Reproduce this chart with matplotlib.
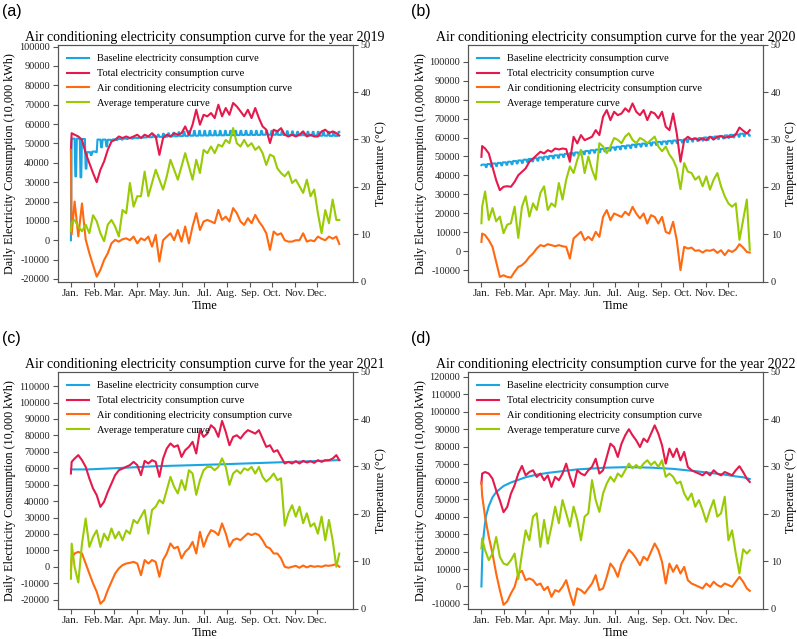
import numpy as np
import matplotlib
matplotlib.use("Agg")
import matplotlib.pyplot as plt

plt.rcParams['font.family'] = ['Liberation Serif', 'DejaVu Serif']
plt.rcParams['axes.unicode_minus'] = False

# ---------------- shared data ----------------
DAYS = [0, 1] + list(range(5, 361, 5)) + [364]
MONTH_START = [0, 31, 59, 90, 120, 151, 181, 212, 243, 273, 304, 334]
MONTHS = ['Jan.', 'Feb.', 'Mar.', 'Apr.', 'May.', 'Jun.', 'Jul.', 'Aug.',
          'Sep.', 'Oct.', 'Nov.', 'Dec.']
YEARS = [2019, 2020, 2021, 2022]
LABELS = ['Baseline electricity consumption curve',
          'Total electricity consumption curve',
          'Air conditioning electricity consumption curve',
          'Average temperature curve']

# ---------------- 2019 ----------------
total_2019 = [46700, 55300, 54500, 53600, 51900, 45000, 39800, 34700, 30000, 36400,
              40700, 46700, 51000, 51900, 53600, 52800, 53600, 52800, 53600, 54500,
              52800, 54500, 53600, 55300, 53600, 44100, 52800, 54500, 53600, 55300,
              54500, 55300, 58800, 54500, 59700, 67400, 59700, 64800, 64000, 65700,
              63100, 70000, 64000, 68300, 64800, 70900, 69100, 66600, 64000, 67400,
              63100, 68300, 63100, 58800, 57100, 50200, 57100, 56200, 57900, 54500,
              53600, 54500, 53600, 54500, 56200, 53600, 54500, 53600, 53600, 56200,
              57100, 55300, 56200, 55300, 54100]
ac_2019 = [46700, 3000, 20000, 2000, 19000, 500, -6700, -12800, -18800, -15300,
           -10200, -6700, -1600, 200, -700, 500, 1000, 0, 1900, -1600,
           1000, 0, 1900, -3300, 2800, -11000, 0, 1900, 3600, 0,
           5300, -700, 7100, -1600, 7100, 14000, 5300, 9700, 10500, 9700,
           8800, 15700, 10500, 12200, 9700, 16600, 14000, 9700, 7900, 11400,
           8800, 13100, 9700, 7100, 3600, -5000, 4500, 2800, 3600, 0,
           -700, -700, 0, 0, 3600, -700, 0, -500, 1900, 800,
           0, 1900, 800, 1900, -1900]
temp_2019 = [10.6, 12.5, 13.0, 11.6, 10.6, 12.0, 10.2, 14.0, 12.7, 10.2,
             8.5, 12.0, 13.0, 11.6, 9.5, 15.1, 14.4, 20.8, 15.8, 18.0,
             18.0, 23.2, 18.0, 20.8, 23.6, 21.5, 19.4, 22.2, 25.7, 23.6,
             21.5, 24.3, 27.1, 24.3, 21.5, 25.7, 22.9, 27.8, 27.1, 28.5,
             27.1, 28.9, 28.5, 29.9, 29.2, 32.4, 29.2, 28.5, 29.9, 28.5,
             29.2, 27.8, 28.5, 27.1, 24.6, 26.8, 26.4, 23.9, 22.9, 22.2,
             23.2, 20.8, 21.5, 20.1, 18.7, 21.5, 18.0, 19.4, 14.4, 10.2,
             15.1, 12.3, 17.3, 13.0, 13.0]
# 2019 baseline: first-day value, weekday level and weekend value per week
base_2019_day0 = 0
base_2019_week = [52500, 52500, 52300, 45500, 45800, 52000, 52000, 51900, 52100, 52300,
                  52500, 52700, 52900, 53000, 53100, 53200, 53300, 53400, 53500, 53600,
                  53700, 53800, 53900, 54000, 54000, 54100, 54100, 54200, 54200, 54200,
                  54300, 54300, 54300, 54400, 54400, 54400, 54400, 54500, 54500, 54500,
                  54400, 54400, 54300, 54300, 54200, 54200, 54100, 54100, 54000, 54000,
                  53900, 53900, 53800]
base_2019_wkend = [33000, 32500, 37000, 44000, 45500, 48000, 48500, 51500, 51800, 52000,
                   52300, 52500, 52700, 53000, 53600, 54000, 54500, 55000, 55200, 55500,
                   55800, 56000, 56300, 56500, 56500, 56500, 56500, 56500, 56500, 56500,
                   56500, 56500, 56500, 56500, 56500, 56500, 56500, 56500, 56500, 56500,
                   56500, 56300, 56200, 56000, 56000, 56000, 56000, 56000, 56000, 56000,
                   56000, 56000, 56000]

# ---------------- 2020 ----------------
total_2020 = [49800, 55500, 54200, 51600, 44500, 37500, 32200, 34000, 34300, 34000,
              36600, 40100, 41900, 43700, 47200, 48900, 50700, 52500, 51600, 53300,
              52500, 54200, 53700, 54200, 53900, 47200, 60400, 56900, 61300, 58600,
              59500, 60400, 63900, 61300, 71000, 74500, 69200, 73600, 71800, 72700,
              75400, 73600, 78000, 73600, 71800, 74500, 69200, 73600, 72700, 70100,
              73600, 65700, 63900, 72700, 62100, 47200, 58600, 60400, 59000, 59500,
              58600, 59500, 58600, 60400, 59000, 60400, 60700, 59900, 60400, 60400,
              61600, 65300, 63600, 62100, 63900]
ac_2020 = [4900, 9300, 8500, 5800, 2300, -5600, -13600, -12700, -13600, -13900,
           -10900, -8300, -7400, -5600, -3000, -1200, 1400, 3200, 2600, 3700,
           3200, 2600, 3200, 2600, 2300, -3900, 6700, 8500, 10200, 5800,
           7600, 5800, 10200, 7600, 18100, 21700, 16400, 19900, 19000, 18100,
           20800, 19000, 23400, 19900, 17300, 19900, 14600, 19000, 18100, 14600,
           18100, 10200, 9300, 15500, 5800, -10000, 2300, 1400, 1900, 200,
           500, -700, 500, 200, 900, -900, 500, -2100, 500, -400,
           900, 3700, 1900, -400, -700]
temp_2020 = [12.3, 15.8, 19.0, 13.0, 15.5, 12.7, 13.7, 10.2, 12.0, 12.3,
             15.8, 9.2, 15.8, 18.0, 13.7, 16.5, 15.1, 18.7, 20.1, 15.1,
             16.5, 15.8, 20.8, 17.3, 21.5, 24.3, 22.9, 25.7, 27.8, 22.9,
             26.4, 23.6, 21.5, 29.2, 28.5, 27.1, 28.5, 30.3, 29.9, 29.2,
             30.6, 31.3, 29.9, 29.2, 30.3, 29.9, 29.2, 29.9, 30.6, 28.5,
             27.5, 28.5, 26.8, 25.7, 23.9, 19.5, 25.0, 23.2, 22.9, 21.5,
             22.2, 20.1, 22.2, 19.4, 21.5, 22.9, 20.1, 18.0, 16.5, 15.8,
             16.5, 8.8, 13.0, 17.3, 6.7]
base_2020_week = [45700, 46000, 46300, 46600, 46900, 47200, 47600, 47900, 48300, 48700,
                  49100, 49500, 49900, 50300, 50600, 51000, 51400, 51800, 52100, 52500,
                  52900, 53300, 53600, 54000, 54400, 54800, 55100, 55500, 55800, 56200,
                  56500, 56800, 57100, 57400, 57700, 57900, 58200, 58400, 58700, 58900,
                  59200, 59500, 59700, 60000, 60300, 60500, 60800, 61100, 61400, 61700,
                  62000, 62300, 62600]
base_2020_wkend = [44400, 44700, 45000, 45300, 45600, 45900, 46300, 46600, 47000, 47400,
                   47800, 48200, 48600, 49000, 49300, 49700, 50100, 50500, 50800, 51200,
                   51600, 52000, 52300, 52700, 53100, 53500, 53800, 54200, 54500, 54900,
                   55200, 55500, 55800, 56100, 56400, 56600, 56900, 57100, 57400, 57600,
                   57900, 58200, 58400, 58700, 59000, 59200, 59500, 59800, 60100, 60400,
                   60700, 61000, 61300]
base_2020_day0 = 45400

# ---------------- 2021 ----------------
total_2021 = [56800, 63900, 65900, 68000, 64900, 60900, 53800, 47700, 43600, 36500,
              39600, 45600, 50700, 55800, 58800, 59800, 60900, 61900, 63900, 61900,
              55800, 64500, 62900, 64900, 63900, 54800, 65900, 72000, 75100, 73000,
              74000, 66900, 71000, 73000, 76100, 69000, 83200, 79100, 81100, 86200,
              84200, 79100, 88800, 82200, 74000, 79100, 80100, 78100, 81100, 83200,
              82200, 81100, 83200, 78100, 73000, 74000, 70000, 71000, 66900, 62900,
              63900, 62900, 64300, 62900, 64500, 63500, 64300, 63300, 64900, 63900,
              64900, 64900, 65900, 68000, 64900]
ac_2021 = [-2000, 5000, 8100, 9100, 8100, 2000, -4100, -10100, -15200, -22500,
           -20300, -14200, -9100, -4100, -1000, 1000, 2000, 2400, 3000, 2000,
           -5100, 4100, 2000, 4100, 3000, -6100, 4100, 8100, 14200, 11200,
           12200, 5100, 9100, 11200, 15200, 8100, 21300, 12200, 18300, 22300,
           21300, 19300, 26400, 20300, 12200, 16200, 17200, 16200, 18300, 20300,
           19300, 20300, 19300, 16200, 12200, 11200, 8100, 8100, 5100, 0,
           -600, 0, 600, -600, 800, -400, 600, 0, 400, 0,
           800, 600, 1000, 1600, 0]
temp_2021 = [6.3, 13.7, 8.8, 5.5, 13.7, 19.0, 13.0, 15.1, 16.5, 13.0,
             15.8, 14.4, 16.9, 14.8, 16.2, 14.4, 16.5, 15.8, 18.7, 18.0,
             19.4, 20.8, 15.8, 20.8, 21.5, 22.9, 22.2, 25.0, 27.8, 25.7,
             24.3, 27.1, 25.0, 29.2, 28.5, 24.0, 27.1, 29.2, 29.9, 29.9,
             29.2, 29.9, 31.7, 29.9, 26.1, 28.5, 29.2, 28.5, 29.6, 29.2,
             29.9, 28.5, 29.9, 27.8, 26.8, 27.5, 28.5, 27.1, 27.5, 17.5,
             20.1, 21.8, 19.4, 21.5, 18.0, 20.1, 17.3, 18.0, 15.8, 19.4,
             14.4, 18.7, 14.4, 8.8, 11.6]
base_2021_days = [0, 23, 68, 113, 159, 204, 249, 294, 339, 364]
base_2021 = [59300, 59300, 60200, 61200, 61800, 62400, 63100, 63800, 64500, 65000]

# ---------------- 2022 ----------------
total_2022 = [58900, 64600, 65500, 64600, 61700, 55000, 49300, 42500, 45500, 53100,
              57900, 64600, 69000, 63600, 65500, 66500, 62700, 64600, 60800, 63600,
              57000, 62700, 60800, 64600, 70300, 62700, 57000, 66500, 64600, 63600,
              66500, 68400, 73100, 64600, 66500, 74100, 81700, 79800, 74100, 81700,
              86500, 90000, 86500, 83600, 79800, 84600, 82700, 87400, 92200, 87400,
              80800, 70300, 78900, 74100, 78900, 72200, 77000, 68400, 66500, 65500,
              64600, 63600, 65500, 63600, 66500, 64600, 63600, 65500, 64600, 63600,
              66500, 68800, 65500, 61700, 59800]
ac_2022 = [59800, 52000, 39800, 28400, 18900, 7400, -2100, -10500, -8500, -4000,
           -200, 7400, 9000, 3600, 4600, 3600, 800, 1700, -2100, -200,
           -5900, -2100, -3000, -200, 3600, -4000, -10700, -1100, -2100, -4000,
           -1100, 1700, 6500, -2100, -1100, 5500, 13100, 10300, 5500, 13100,
           17000, 21000, 18900, 16000, 12200, 17000, 15000, 19800, 24600, 20800,
           14100, 1700, 13100, 8400, 12200, 7400, 11200, 3600, 1700, 800,
           -200, -1100, 1700, -200, 2700, 800, -200, 1700, 800, -200,
           2700, 5500, 2700, -1100, -2500]
temp_2022 = [12.7, 14.8, 12.3, 10.2, 11.6, 15.1, 10.9, 9.5, 9.2, 10.2,
             11.6, 6.2, 11.6, 16.5, 14.4, 19.4, 20.1, 13.0, 18.7, 13.7,
             17.3, 21.5, 18.0, 22.9, 20.1, 17.3, 21.5, 18.7, 14.4, 19.4,
             20.1, 27.1, 22.9, 20.4, 24.3, 26.4, 27.8, 26.8, 28.5, 27.8,
             29.2, 30.6, 29.6, 30.3, 29.6, 30.6, 31.3, 30.3, 31.0, 29.9,
             31.3, 27.8, 28.5, 27.8, 26.4, 26.8, 24.3, 22.9, 24.3, 21.5,
             22.9, 20.8, 18.3, 20.8, 22.9, 19.4, 20.1, 23.6, 14.4, 16.5,
             11.6, 7.4, 12.5, 11.6, 12.3]
base_2022_days = [0, 1, 2, 4, 6, 10, 15, 20, 30, 40, 50, 60, 75, 90, 110, 130, 150,
                  170, 200, 230, 260, 290, 310, 330, 345, 355, 364]
base_2022 = [0, 15000, 25000, 33000, 40000, 46000, 51000, 54000, 57500, 59500, 61000,
             62500, 64000, 65000, 66000, 67000, 67500, 68000, 68300, 68000, 67300,
             66000, 65000, 64000, 63000, 62500, 61500]

YLIMS = [(-21300, 101000), (-16000, 109000), (-25400, 118800), (-12600, 122900)]
YTICKS = [(-20000, 100000), (-10000, 100000), (-20000, 110000), (-10000, 120000)]

C_BASE = '#1BA6E3'
C_TOT = '#E5194C'
C_AC = '#FF690F'
C_TEMP = '#98CB04'


def weekly_curve(day0_val, week_vals, wkend_vals):
    d = [0]
    v = [day0_val]
    for k, (lv, sv) in enumerate(zip(week_vals, wkend_vals)):
        s = 1 + 7 * k
        for dd, vv in ((s, lv), (s + 4, lv), (s + 5, sv), (s + 6, sv)):
            if dd <= 364:
                d.append(dd)
                v.append(vv)
    return d, v


b19 = weekly_curve(base_2019_day0, base_2019_week, base_2019_wkend)
b20 = weekly_curve(base_2020_day0, base_2020_week, base_2020_wkend)
BASES = [b19, b20, (base_2021_days, base_2021), (base_2022_days, base_2022)]
TOTALS = [total_2019, total_2020, total_2021, total_2022]
ACS = [ac_2019, ac_2020, ac_2021, ac_2022]
TEMPS = [temp_2019, temp_2020, temp_2021, temp_2022]

W, H = 797, 639
fig = plt.figure(figsize=(W / 100, H / 100), dpi=100)

lefts = [57.5, 468.0, 57.5, 468.0]
tops = [44.7, 44.7, 371.7, 371.7]
aw, ah = 295.2, 236.8
letters = ['(a)', '(b)', '(c)', '(d)']
letter_pos = [(2, 4), (411, 4), (2, 331), (411, 331)]

SPINE = '#555555'
for i in range(4):
    ax = fig.add_axes([lefts[i] / W, 1 - (tops[i] + ah) / H, aw / W, ah / H])
    ax2 = ax.twinx()
    bd, bv = BASES[i]
    l1, = ax.plot(bd, bv, color=C_BASE, lw=1.5, label=LABELS[0])
    l2, = ax.plot(DAYS, TOTALS[i], color=C_TOT, lw=1.5, label=LABELS[1])
    l3, = ax.plot(DAYS, ACS[i], color=C_AC, lw=1.5, label=LABELS[2])
    l4, = ax2.plot(DAYS, TEMPS[i], color=C_TEMP, lw=1.5, label=LABELS[3])

    ax.set_xlim(-18.2, 382.2)
    ax.set_ylim(*YLIMS[i])
    lo, hi = YTICKS[i]
    ax.set_yticks(np.arange(lo, hi + 1, 10000))
    ax.set_xticks(MONTH_START)
    ax.set_xticklabels(MONTHS)
    ax2.set_ylim(0, 50)
    ax2.set_yticks([0, 10, 20, 30, 40, 50])

    for a in (ax, ax2):
        a.tick_params(labelsize=7.4, length=3.5, width=0.8, colors='#222222',
                      color=SPINE, pad=2)
        for sp in a.spines.values():
            sp.set_color(SPINE)
            sp.set_linewidth(0.8)
    ax.tick_params(axis='x', labelsize=8)

    ax.set_ylabel('Daily Electricity Consumption (10,000 kWh)', fontsize=8.7, labelpad=2)
    ax2.set_ylabel('Temperature (\u00b0C)', fontsize=8.7, labelpad=3)
    ax.set_xlabel('Time', fontsize=9, labelpad=1)
    ax.set_title(f'Air conditioning electricity consumption curve for the year {YEARS[i]}',
                 fontsize=10, pad=3)
    ax.legend(handles=[l1, l2, l3, l4], loc='upper left', frameon=False,
              fontsize=7.5, handlelength=2.08, handletextpad=0.8,
              labelspacing=0.53, borderaxespad=0.5, borderpad=0.4)

    fig.text(letter_pos[i][0] / W, 1 - letter_pos[i][1] / H, letters[i],
             family=['Liberation Sans', 'DejaVu Sans'], fontsize=11.5, va='top', ha='left')

fig.savefig('out.png', dpi=100)
